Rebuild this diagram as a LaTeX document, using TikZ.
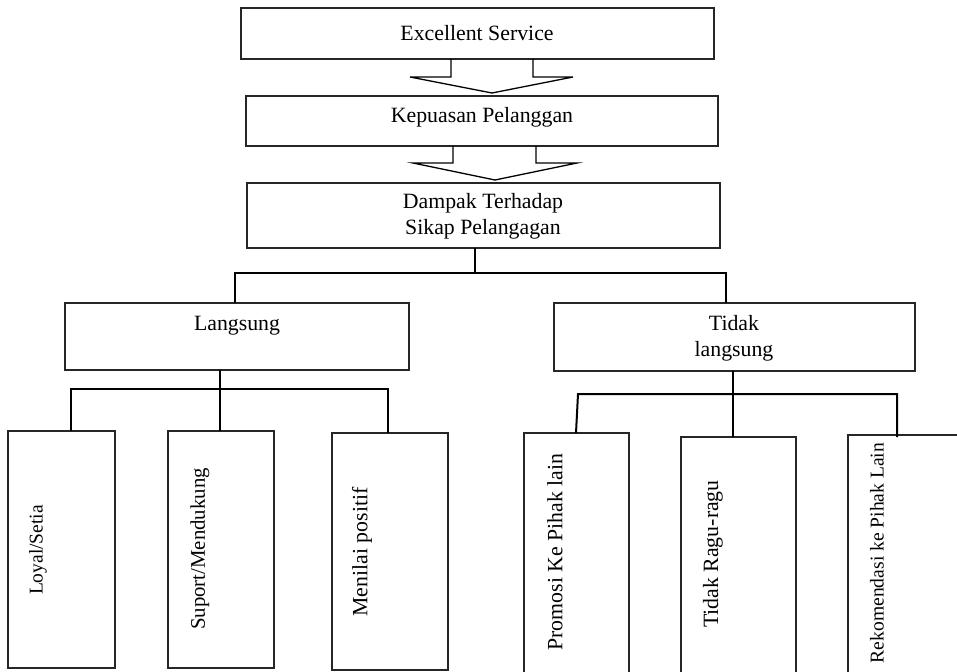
\documentclass[tikz,border=0pt]{standalone}
\usepackage{fontspec}
\setmainfont{Liberation Serif}
\begin{document}
\begin{tikzpicture}[x=1pt,y=-1pt,
  box/.style={draw=black!85, line width=1.2pt, inner sep=0pt, outer sep=0pt, anchor=north west, fill=white},
  conn/.style={line width=2pt, draw=black},
  blockarrow/.style={line width=1.3pt, draw=black, line join=miter},
  lbl/.style={inner sep=0pt, align=center, font=\fontsize{21.8}{26}\selectfont},
  vlbl/.style={inner sep=0pt, rotate=90, font=\fontsize{21.8}{26}\selectfont}]
\useasboundingbox (0,0) rectangle (957,671);
\clip (0,0) rectangle (957,671);

% boxes
\node[box, minimum width=473, minimum height=51] (es) at (241,8) {};
\node[box, minimum width=472, minimum height=50] (kp) at (246,96) {};
\node[box, minimum width=473, minimum height=65] (dp) at (247,183) {};
\node[box, minimum width=344, minimum height=67] (lg) at (65,303) {};
\node[box, minimum width=361, minimum height=68] (tl) at (554,303) {};
\node[box, minimum width=107, minimum height=237] (b1) at (8,431) {};
\node[box, minimum width=106, minimum height=237] (b2) at (168,431) {};
\node[box, minimum width=116, minimum height=237] (b3) at (332,433) {};
\node[box, minimum width=105, minimum height=267] (b4) at (524,433) {};
\node[box, minimum width=115, minimum height=263] (b5) at (681,437) {};
\node[box, minimum width=132, minimum height=265] (b6) at (848,435) {};

% block arrows
\draw[blockarrow] (451,59) -- (451,77) -- (410,77) -- (492,93) -- (573,77) -- (533,77) -- (533,59);
\draw[blockarrow] (453,146) -- (453,163) -- (413,163) -- (495,180) -- (577,163) -- (536,163) -- (536,146);

% connectors
\coordinate (j0) at (475,273);
\coordinate (jL) at (235,273);
\coordinate (jR) at (726,273);
\draw[conn] (j0 |- dp.south) -- (j0);
\draw[conn] (jL |- lg.north) -- (jL) -- (jR) -- (jR |- tl.north);

\coordinate (k0) at (220,389);
\coordinate (k1) at (71,389);
\coordinate (k3) at (388,389);
\draw[conn] (k0 |- lg.south) -- (k0) -- (k0 |- b2.north);
\draw[conn] (k1 |- b1.north) -- (k1) -- (k3) -- (k3 |- b3.north);

\coordinate (m0) at (733,394);
\coordinate (m1) at (578,394);
\coordinate (m3) at (897,394);
\coordinate (m1b) at (576,433);
\coordinate (m3b) at (897,437);
\draw[conn] (m0 |- tl.south) -- (m0) -- (m0 |- b5.north);
\draw[conn] (m1b) -- (m1) -- (m3) -- (m3b);

% labels
\node[lbl] (tes) at (477,33) {Excellent Service};
\node[lbl] (tkp) at (482,117) {Kepuasan Pelanggan};
\node[lbl] (tdp) at (483,216) {Dampak Terhadap\\Sikap Pelangagan};
\node[lbl] (tlg) at (237,326) {Langsung};
\node[lbl] (ttl) at (734,338) {Tidak\\langsung};

\node[vlbl, font=\fontsize{19.5}{24}\selectfont] (v1) at (38,550) {Loyal/Setia};
\node[vlbl, font=\fontsize{20.8}{24}\selectfont] (v2) at (200,549) {Suport/Mendukung};
\node[vlbl] (v3) at (362,552) {Menilai positif};
\node[vlbl] (v4) at (555,552) {Promosi Ke Pihak lain};
\node[vlbl] (v5) at (713,554) {Tidak Ragu-ragu};
\node[vlbl, font=\fontsize{19.6}{24}\selectfont] (v6) at (877,553) {Rekomendasi ke Pihak Lain};
\end{tikzpicture}
\end{document}
